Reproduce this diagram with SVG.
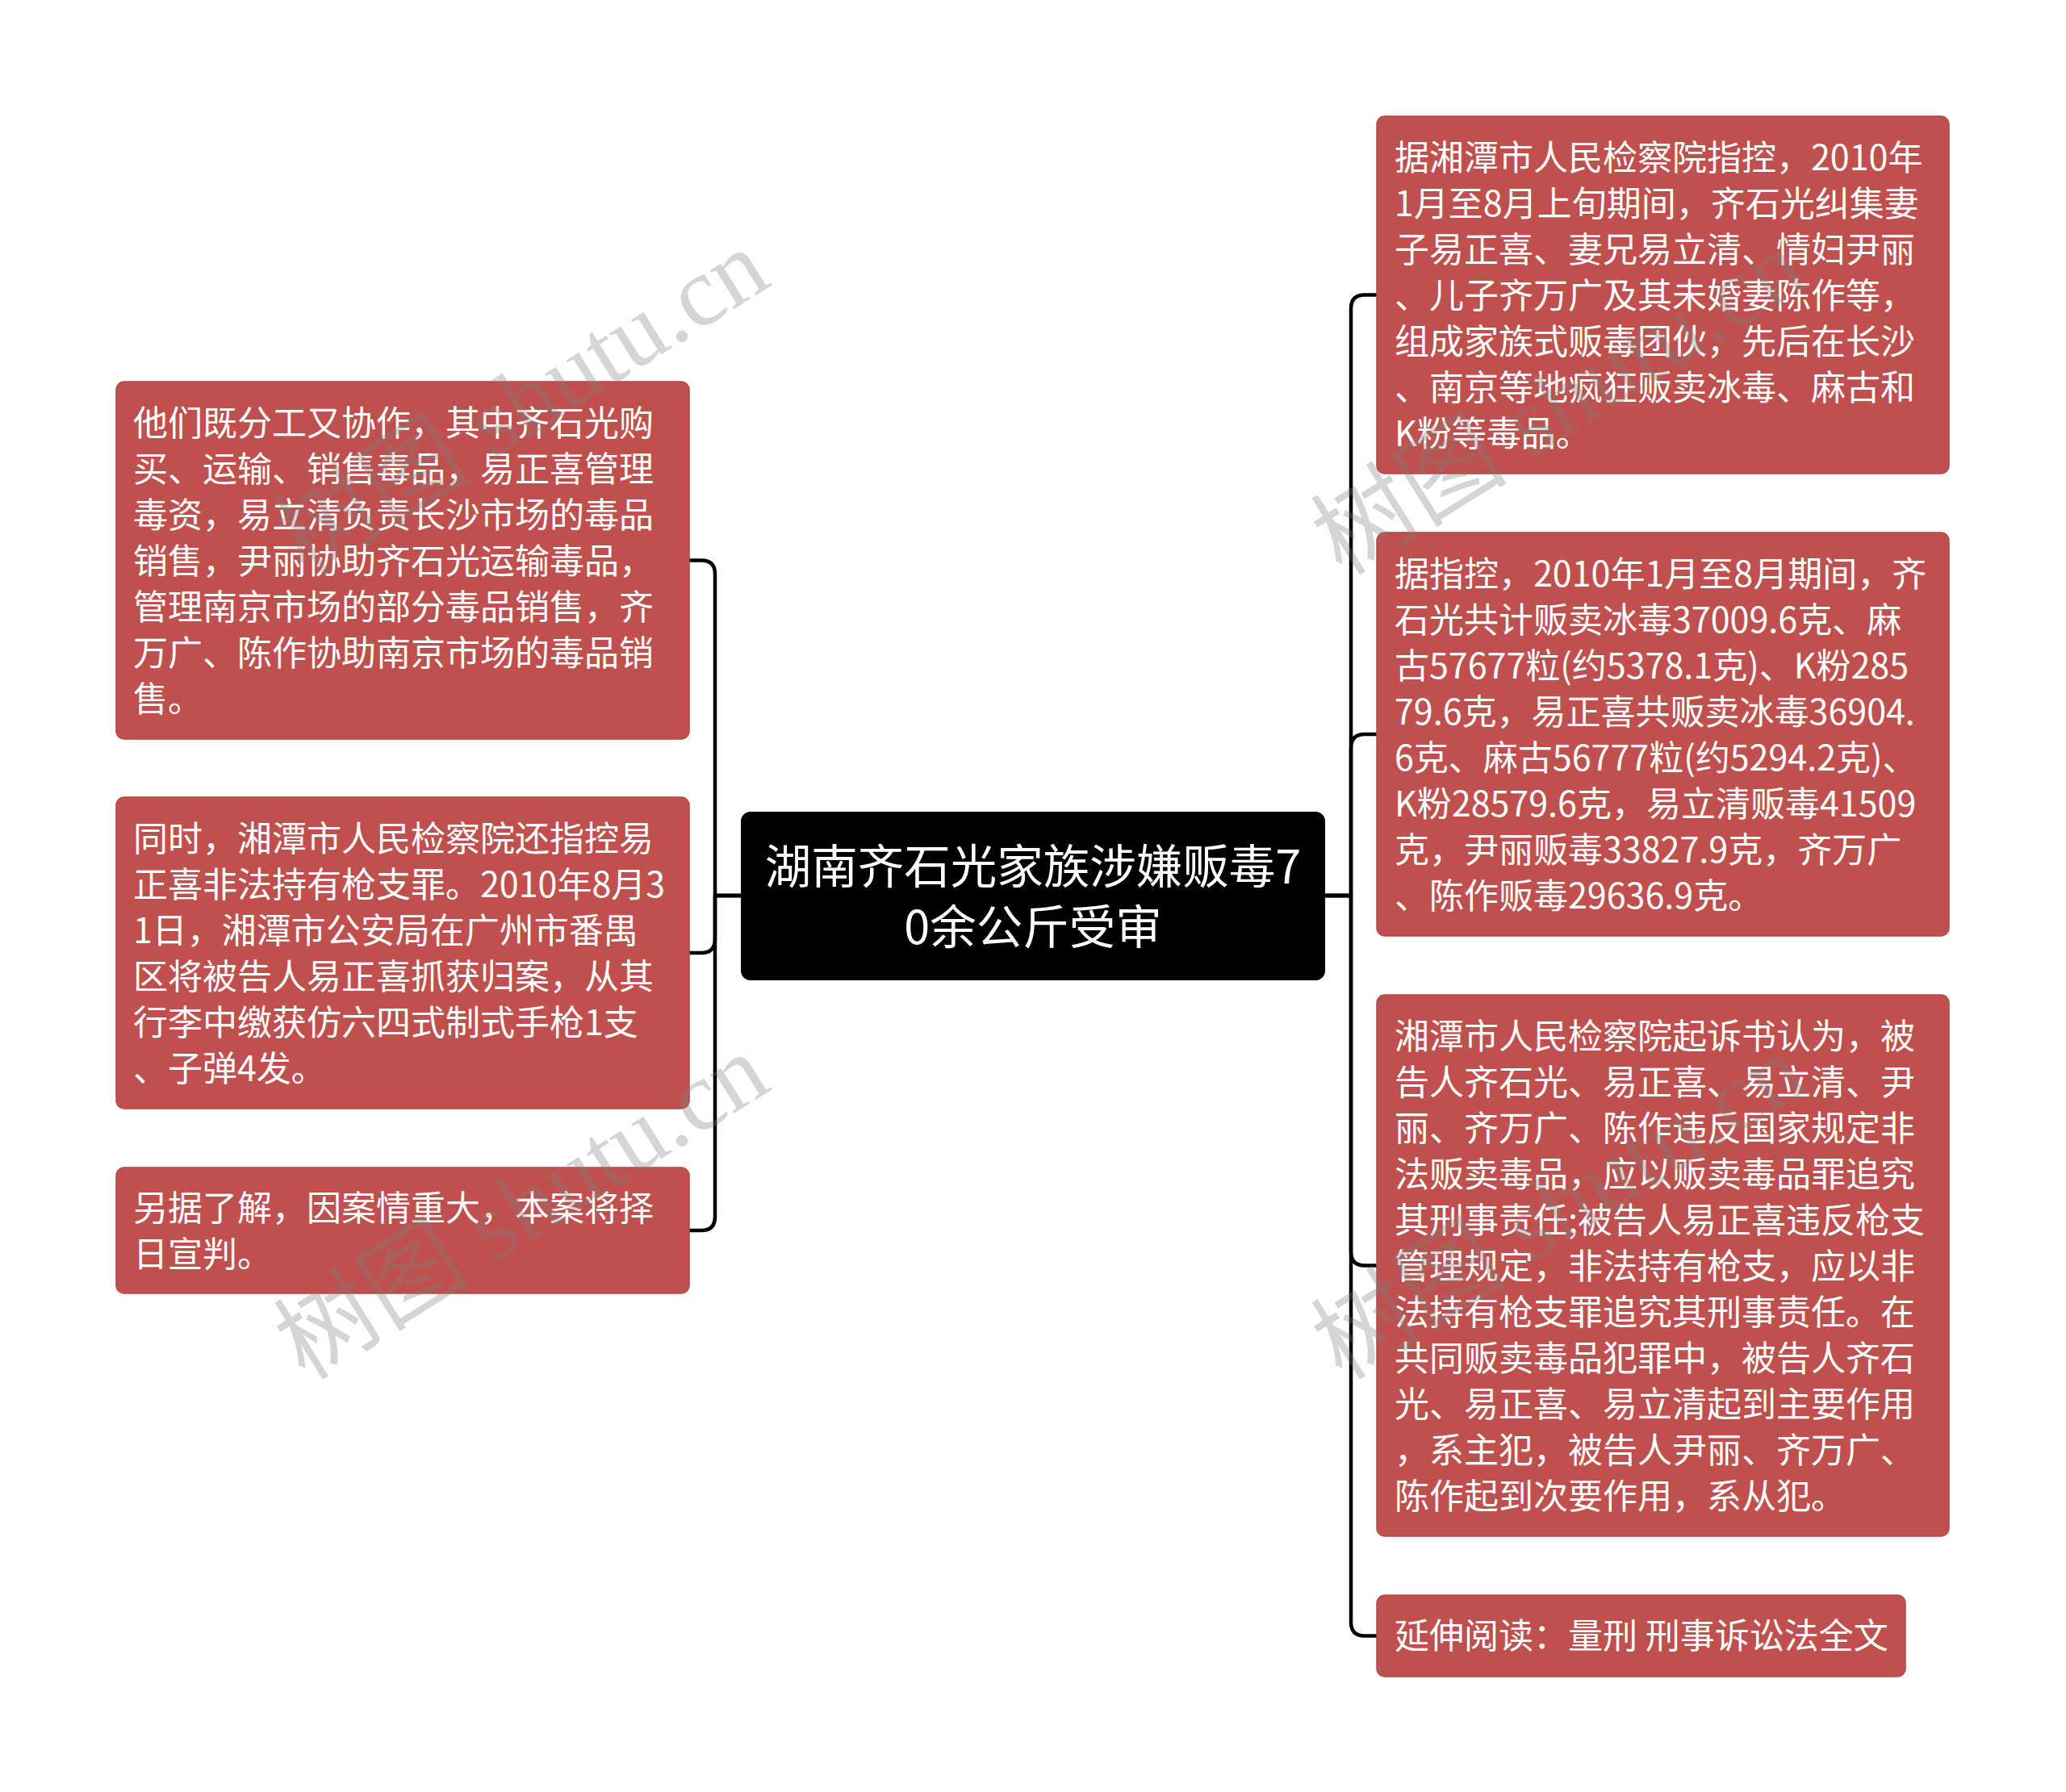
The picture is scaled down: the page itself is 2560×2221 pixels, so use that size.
<svg xmlns="http://www.w3.org/2000/svg" width="2560" height="2221" viewBox="0 0 2560 2221">
<style>
.bg{fill:#ffffff}
.box{fill:#C0504D;stroke:#b34a47;stroke-width:1.5}
.root{fill:#000000}
.t{font-family:"Noto Sans CJK SC","Liberation Sans",sans-serif;font-size:43px;fill:#ffffff}
.rt{font-family:"Noto Sans CJK SC","Liberation Sans",sans-serif;font-size:57.5px;fill:#ffffff;text-anchor:middle}
.conn{fill:none;stroke:#000000;stroke-width:4.5;stroke-linejoin:round}
.wm{font-family:"Liberation Serif","Noto Sans CJK SC",serif;font-size:122px;fill:#808080;fill-opacity:0.33}
</style>
<rect class="bg" x="0" y="0" width="2560" height="2221"/>
<g id="connectors">
<path class="conn" d="M918,1110 H886 V711.5 Q886,694.5 869,694.5 H854"/>
<path class="conn" d="M918,1110 H886 V1164 Q886,1181 869,1181 H854"/>
<path class="conn" d="M918,1110 H886 V1508 Q886,1525 869,1525 H854"/>
<path class="conn" d="M1642,1110 H1674 V382.5 Q1674,365.5 1691,365.5 H1706"/>
<path class="conn" d="M1642,1110 H1674 V927 Q1674,910 1691,910 H1706"/>
<path class="conn" d="M1642,1110 H1674 V1551.5 Q1674,1568.5 1691,1568.5 H1706"/>
<path class="conn" d="M1642,1110 H1674 V2010.5 Q1674,2027.5 1691,2027.5 H1706"/>
</g>
<g id="root">
<rect class="root" x="918" y="1006" width="724" height="209" rx="12"/>
<text class="rt" x="1280" y="1095">湖南齐石光家族涉嫌贩毒7</text>
<text class="rt" x="1280" y="1170">0余公斤受审</text>
</g>
<g id="left1">
<rect class="box" x="144" y="473" width="710" height="443" rx="10"/>
<text class="t" x="165" y="540">他们既分工又协作，其中齐石光购</text>
<text class="t" x="165" y="597">买、运输、销售毒品，易正喜管理</text>
<text class="t" x="165" y="654">毒资，易立清负责长沙市场的毒品</text>
<text class="t" x="165" y="711">销售，尹丽协助齐石光运输毒品，</text>
<text class="t" x="165" y="768">管理南京市场的部分毒品销售，齐</text>
<text class="t" x="165" y="825">万广、陈作协助南京市场的毒品销</text>
<text class="t" x="165" y="882">售。</text>
</g>
<g id="left2">
<rect class="box" x="144" y="988" width="710" height="386" rx="10"/>
<text class="t" x="165" y="1055">同时，湘潭市人民检察院还指控易</text>
<text class="t" x="165" y="1112">正喜非法持有枪支罪。2010年8月3</text>
<text class="t" x="165" y="1169">1日，湘潭市公安局在广州市番禺</text>
<text class="t" x="165" y="1226">区将被告人易正喜抓获归案，从其</text>
<text class="t" x="165" y="1283">行李中缴获仿六四式制式手枪1支</text>
<text class="t" x="165" y="1340">、子弹4发。</text>
</g>
<g id="left3">
<rect class="box" x="144" y="1447" width="710" height="156" rx="10"/>
<text class="t" x="165" y="1513">另据了解，因案情重大，本案将择</text>
<text class="t" x="165" y="1570">日宣判。</text>
</g>
<g id="right1">
<rect class="box" x="1706" y="144" width="709" height="443" rx="10"/>
<text class="t" x="1728" y="211">据湘潭市人民检察院指控，2010年</text>
<text class="t" x="1728" y="268">1月至8月上旬期间，齐石光纠集妻</text>
<text class="t" x="1728" y="325">子易正喜、妻兄易立清、情妇尹丽</text>
<text class="t" x="1728" y="382">、儿子齐万广及其未婚妻陈作等，</text>
<text class="t" x="1728" y="439">组成家族式贩毒团伙，先后在长沙</text>
<text class="t" x="1728" y="496">、南京等地疯狂贩卖冰毒、麻古和</text>
<text class="t" x="1728" y="553">K粉等毒品。</text>
</g>
<g id="right2">
<rect class="box" x="1706" y="660" width="709" height="500" rx="10"/>
<text class="t" x="1728" y="727">据指控，2010年1月至8月期间，齐</text>
<text class="t" x="1728" y="784">石光共计贩卖冰毒37009.6克、麻</text>
<text class="t" x="1728" y="841">古57677粒(约5378.1克)、K粉285</text>
<text class="t" x="1728" y="898">79.6克，易正喜共贩卖冰毒36904.</text>
<text class="t" x="1728" y="955">6克、麻古56777粒(约5294.2克)、</text>
<text class="t" x="1728" y="1012">K粉28579.6克，易立清贩毒41509</text>
<text class="t" x="1728" y="1069">克，尹丽贩毒33827.9克，齐万广</text>
<text class="t" x="1728" y="1126">、陈作贩毒29636.9克。</text>
</g>
<g id="right3">
<rect class="box" x="1706" y="1233" width="709" height="671" rx="10"/>
<text class="t" x="1728" y="1300">湘潭市人民检察院起诉书认为，被</text>
<text class="t" x="1728" y="1357">告人齐石光、易正喜、易立清、尹</text>
<text class="t" x="1728" y="1414">丽、齐万广、陈作违反国家规定非</text>
<text class="t" x="1728" y="1471">法贩卖毒品，应以贩卖毒品罪追究</text>
<text class="t" x="1728" y="1528">其刑事责任;被告人易正喜违反枪支</text>
<text class="t" x="1728" y="1585">管理规定，非法持有枪支，应以非</text>
<text class="t" x="1728" y="1642">法持有枪支罪追究其刑事责任。在</text>
<text class="t" x="1728" y="1699">共同贩卖毒品犯罪中，被告人齐石</text>
<text class="t" x="1728" y="1756">光、易正喜、易立清起到主要作用</text>
<text class="t" x="1728" y="1813">，系主犯，被告人尹丽、齐万广、</text>
<text class="t" x="1728" y="1870">陈作起到次要作用，系从犯。</text>
</g>
<g id="right4">
<rect class="box" x="1706" y="1977" width="655" height="101" rx="10"/>
<text class="t" x="1728" y="2043">延伸阅读：量刑 刑事诉讼法全文</text>
</g>
<g id="watermark">
<text class="wm" transform="translate(378,715) rotate(-32)">树图 shutu.cn</text>
<text class="wm" transform="translate(1663,715) rotate(-32)">树图 shutu.cn</text>
<text class="wm" transform="translate(378,1712) rotate(-32)">树图 shutu.cn</text>
<text class="wm" transform="translate(1663,1712) rotate(-32)">树图 shutu.cn</text>
</g>
</svg>
